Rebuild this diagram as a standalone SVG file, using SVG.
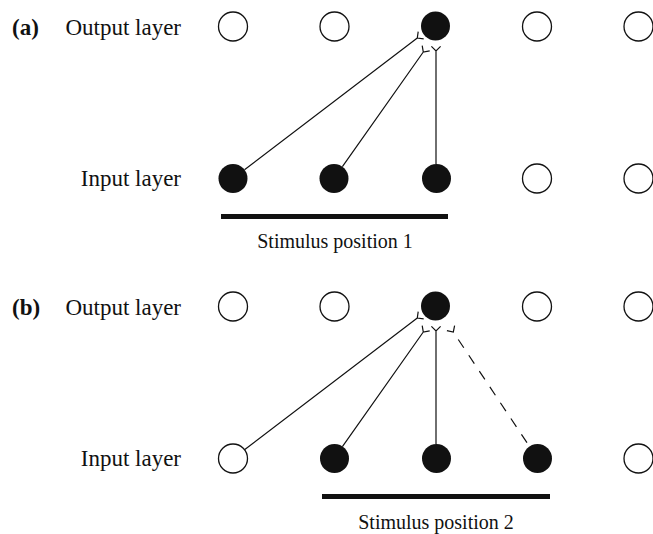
<svg xmlns="http://www.w3.org/2000/svg" width="653" height="534" viewBox="0 0 653 534">
<style>
text{font-family:"Liberation Serif","Times New Roman",serif;fill:#111}
.lbl{font-size:23px}
.tag{font-size:23px;font-weight:bold}
.stim{font-size:20px}
.open{fill:#fff;stroke:#111;stroke-width:1.3}
.full{fill:#111;stroke:none}
.ln{fill:none;stroke:#111;stroke-width:1.2}
.dash{stroke-dasharray:10 9}
.bar{fill:#111}
</style>
<rect width="653" height="534" fill="#fff"/>
<g id="labels">
<text class="tag" x="12" y="35">(a)</text>
<text class="lbl" x="181" y="35" text-anchor="end">Output layer</text>
<text class="lbl" x="181" y="186" text-anchor="end">Input layer</text>
<text class="stim" x="335" y="248" text-anchor="middle">Stimulus position 1</text>
<text class="tag" x="12" y="315">(b)</text>
<text class="lbl" x="181" y="315" text-anchor="end">Output layer</text>
<text class="lbl" x="181" y="466" text-anchor="end">Input layer</text>
<text class="stim" x="436" y="529" text-anchor="middle">Stimulus position 2</text>
</g>
<g id="bars">
<rect class="bar" x="221" y="214" width="227" height="5"/>
<rect class="bar" x="322" y="494" width="228" height="5"/>
</g>
<g id="connectors">
<path class="ln" d="M244.5 169.7L417.3 38M418.2 31.6L417.3 38L423.7 38.9"/>
<path class="ln" d="M342.4 166.6L423.3 52M422.2 45.6L423.3 52L429.7 50.9"/>
<path class="ln" d="M436 164L436 51M431.4 46.4L436 51L440.6 46.4"/>
<path class="ln" d="M244.5 449.7L417.3 318M418.2 311.6L417.3 318L423.7 318.9"/>
<path class="ln" d="M342.4 446.6L423.3 332M422.2 325.6L423.3 332L429.7 330.9"/>
<path class="ln" d="M436 444L436 331M431.4 326.4L436 331L440.6 326.4"/>
<path class="ln dash" d="M537.5 458.5L453.3 332"/>
<path class="ln" d="M446.9 330.7L453.3 332L454.6 325.6"/>
</g>
<g id="out-a1"><circle class="open" cx="233" cy="26.5" r="14.5"/></g>
<g id="out-a2"><circle class="open" cx="334.5" cy="26.5" r="14.5"/></g>
<g id="out-a3"><circle class="full" cx="435.5" cy="26" r="14.5"/></g>
<g id="out-a4"><circle class="open" cx="537" cy="26.5" r="14.5"/></g>
<g id="out-a5"><circle class="open" cx="638.5" cy="26.5" r="14.5"/></g>
<g id="in-a1"><circle class="full" cx="233" cy="178.5" r="14.5"/></g>
<g id="in-a2"><circle class="full" cx="334" cy="178.5" r="14.5"/></g>
<g id="in-a3"><circle class="full" cx="436.5" cy="178.5" r="14.5"/></g>
<g id="in-a4"><circle class="open" cx="537" cy="178.5" r="14.5"/></g>
<g id="in-a5"><circle class="open" cx="638.5" cy="178.5" r="14.5"/></g>
<g id="out-b1"><circle class="open" cx="233" cy="306.5" r="14.5"/></g>
<g id="out-b2"><circle class="open" cx="334.5" cy="306.5" r="14.5"/></g>
<g id="out-b3"><circle class="full" cx="435.5" cy="306" r="14.5"/></g>
<g id="out-b4"><circle class="open" cx="537" cy="306.5" r="14.5"/></g>
<g id="out-b5"><circle class="open" cx="638.5" cy="306.5" r="14.5"/></g>
<g id="in-b1"><circle class="open" cx="233" cy="458.5" r="14.5"/></g>
<g id="in-b2"><circle class="full" cx="334.5" cy="458.5" r="14.5"/></g>
<g id="in-b3"><circle class="full" cx="436.5" cy="458.5" r="14.5"/></g>
<g id="in-b4"><circle class="full" cx="537.5" cy="458.5" r="14.5"/></g>
<g id="in-b5"><circle class="open" cx="638.5" cy="458.5" r="14.5"/></g>
</svg>
